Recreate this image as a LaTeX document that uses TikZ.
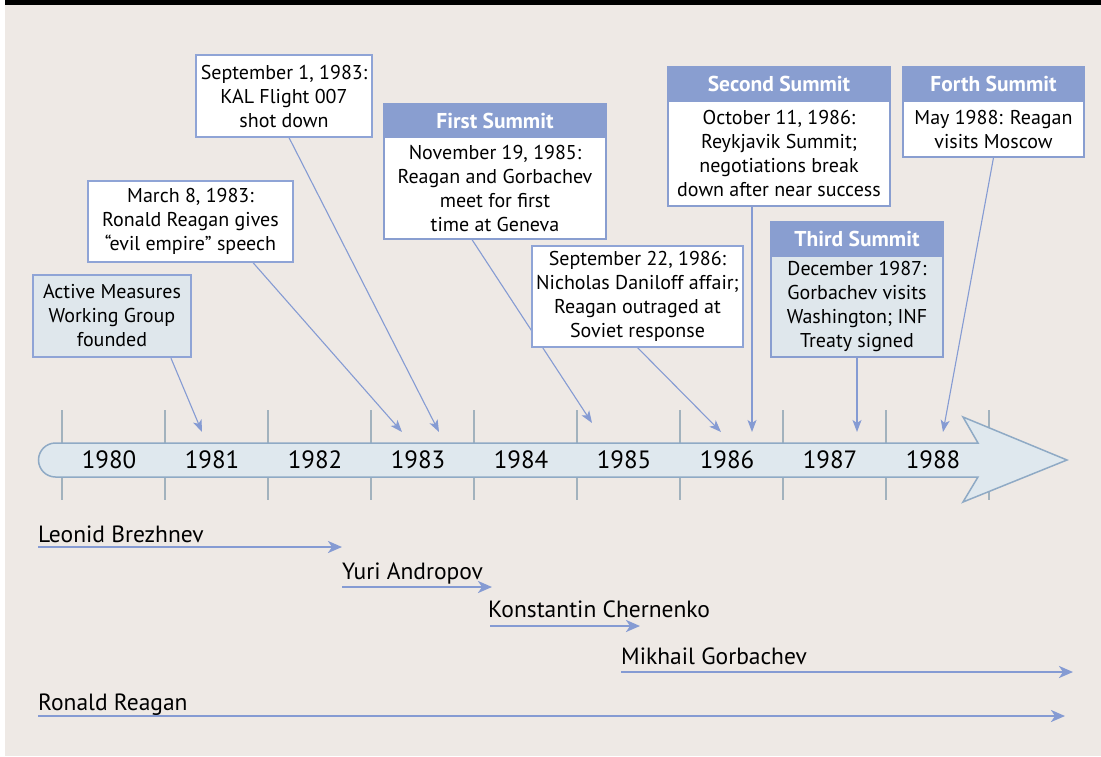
\documentclass[tikz,border=0pt]{standalone}
\usepackage{fontspec}
\setmainfont{PT Sans}
\usetikzlibrary{arrows.meta}
\pgfdeclarelayer{bg}
\pgfdeclarelayer{lines}
\pgfsetlayers{bg,lines,main}
\definecolor{bgc}{HTML}{EEE9E5}
\definecolor{hdr}{HTML}{899ED0}
\definecolor{bord}{HTML}{8FA4D6}
\definecolor{conn}{HTML}{859BD3}
\definecolor{lightfill}{HTML}{DFE7EC}
\definecolor{barfill}{HTML}{DFE8EE}
\definecolor{barline}{HTML}{8FAAC5}
\definecolor{tickc}{HTML}{A2B2BD}
\begin{document}
\begin{tikzpicture}[x=1pt,y=-1pt,
  boxtext/.style={font=\fontsize{20}{24}\selectfont, align=center, inner sep=0pt, text=black},
  plainbox/.style={boxtext, draw=bord, line width=1.2pt, fill=white},
  bluebox/.style={boxtext, draw=bord, line width=2.4pt, fill=lightfill},
  hdrbox/.style={draw=hdr, line width=1.2pt, fill=hdr, text=white, inner sep=0pt, font=\fontsize{21.5}{24}\selectfont\bfseries},
  bodybox/.style={plainbox, draw=hdr},
  conline/.style={draw=conn, line width=1.1pt, -{Stealth[length=12pt,width=9pt,inset=3pt]}},
  namearrow/.style={draw=conn, line width=2.4pt, -{Stealth[length=14pt,width=12pt,inset=4pt]}},
  yearlbl/.style={font=\fontsize{25}{28}\selectfont, inner sep=0pt},
  namelbl/.style={font=\fontsize{23.5}{26}\selectfont, inner sep=0pt, anchor=base west},
  tickline/.style={draw=tickc, line width=1.6pt}
]
\useasboundingbox (0,0) rectangle (1101,756);
\begin{pgfonlayer}{bg}
  \fill[white] (0,0) rectangle (1101,756);
  \fill[black] (5,0) rectangle (1101,5);
  \fill[bgc] (5,5) rectangle (1101,756);
  \foreach \i in {0,...,9} \draw[tickline] (62+103*\i,410) -- (62+103*\i,500);
\end{pgfonlayer}

% timeline bar
\draw[barline, line width=1.5pt, fill=barfill]
  (55.5,443) -- (978,443) -- (963,417) -- (1067,460) -- (963,502) -- (978,477) -- (55.5,477)
  arc[start angle=90, end angle=270, radius=17] -- cycle;
\foreach \y [count=\i from 0] in {1980,1981,1982,1983,1984,1985,1986,1987,1988}
  \node[yearlbl] (y\y) at (109+103*\i,460) {\y};

% boxes
\node[bluebox, minimum width=158, minimum height=82] (amwg) at (112,316) {Active Measures\\Working Group\\founded};
\node[plainbox, minimum width=205, minimum height=81] (mar) at (190.5,221.5) {March 8, 1983:\\Ronald Reagan gives\\“evil empire” speech};
\node[plainbox, minimum width=176, minimum height=82] (sep1) at (284,96) {September 1, 1983:\\KAL Flight 007\\shot down};
\node[hdrbox, minimum width=222, minimum height=33] (h1) at (495,120.5) {First Summit};
\node[bodybox, minimum width=222, minimum height=102] (b1) at (495,188) {November 19, 1985:\\Reagan and Gorbachev\\meet for first\\time at Geneva};
\node[plainbox, minimum width=211, minimum height=101] (sep22) at (637.5,296.5) {September 22, 1986:\\Nicholas Daniloff affair;\\Reagan outraged at\\Soviet response};
\node[hdrbox, minimum width=222, minimum height=34] (h2) at (779,84) {Second Summit};
\node[bodybox, minimum width=222, minimum height=105] (b2) at (779,153.5) {October 11, 1986:\\Reykjavik Summit;\\negotiations break\\down after near success};
\node[hdrbox, minimum width=172, minimum height=34] (h3) at (857,239) {Third Summit};
\node[bodybox, fill=lightfill, minimum width=172, minimum height=101] (b3) at (857,306.5) {December 1987:\\Gorbachev visits\\Washington; INF\\Treaty signed};
\node[hdrbox, minimum width=181, minimum height=34] (h4) at (993.5,84) {Forth Summit};
\node[bodybox, minimum width=181, minimum height=56] (b4) at (993.5,129) {May 1988: Reagan\\visits Moscow};

% arrow tips on the timeline
\coordinate (t1) at (202,432);
\coordinate (t2) at (402,432);
\coordinate (t3) at (439,432);
\coordinate (t4) at (592,423);
\coordinate (t5) at (721,432);
\coordinate (t6) at (752,432);
\coordinate (t7) at (857,432);
\coordinate (t8) at (943,432);

\begin{pgfonlayer}{lines}
  \draw[conline] ([xshift=59pt]amwg.south) -- (t1);
  \draw[conline] ([xshift=62.5pt]mar.south) -- (t2);
  \draw[conline] ([xshift=5pt]sep1.south) -- (t3);
  \draw[conline] ([xshift=-23pt]b1.south) -- (t4);
  \draw[conline] (sep22.south) -- (t5);
  \draw[conline] ([xshift=-27pt]b2.south) -- (t6);
  \draw[conline] (b3.south) -- (t7);
  \draw[conline] (b4.south) -- (t8);
\end{pgfonlayer}

% leaders
\node[namelbl] (brezh) at (38,542) {Leonid Brezhnev};
\node[namelbl] (andro) at (342,579) {Yuri Andropov};
\node[namelbl] (chern) at (488,617) {Konstantin Chernenko};
\node[namelbl] (gorb) at (621,664) {Mikhail Gorbachev};
\node[namelbl] (reag) at (38,710) {Ronald Reagan};
\coordinate (a1s) at (38,547);   \coordinate (a1e) at (342,547);
\coordinate (a2s) at (342,587);  \coordinate (a2e) at (492,587);
\coordinate (a3s) at (490,626);  \coordinate (a3e) at (640,626);
\coordinate (a4s) at (621,672);  \coordinate (a4e) at (1073,672);
\coordinate (a5s) at (38,716);   \coordinate (a5e) at (1065,716);
\draw[namearrow] (a1s) -- (a1e);
\draw[namearrow] (a2s) -- (a2e);
\draw[namearrow] (a3s) -- (a3e);
\draw[namearrow] (a4s) -- (a4e);
\draw[namearrow] (a5s) -- (a5e);
\end{tikzpicture}
\end{document}
